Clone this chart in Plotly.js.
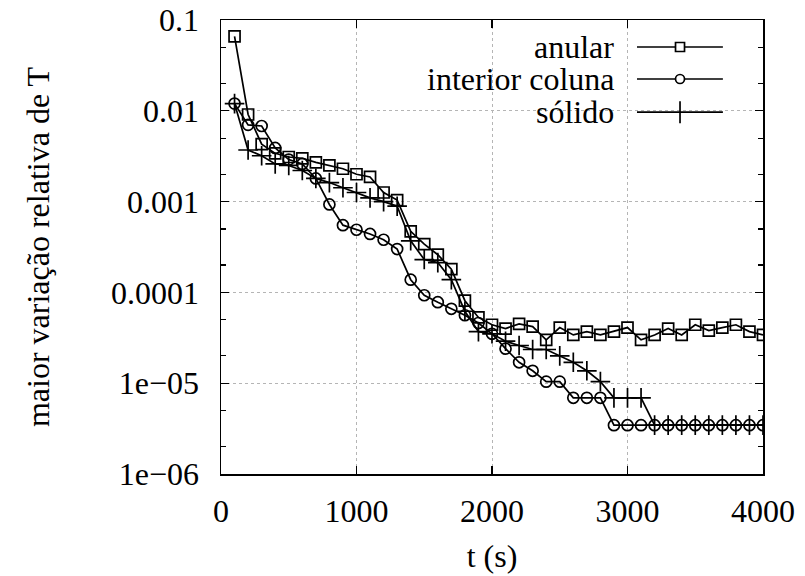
<!DOCTYPE html>
<html>
<head>
<meta charset="utf-8">
<script src="https://cdn.plot.ly/plotly-3.0.1.min.js"></script>
<style>html,body{margin:0;padding:0;background:#fff;}#chart{width:805px;height:576px;}</style>
</head>
<body>
<div id="chart"></div>
<script>
// time (s)
var tAnular = [100,200,300,400,500,600,700,800,900,1000,1100,1200,1300,1400,1500,1600,1700,1800,1900,2000,
  2100,2200,2300,2400,2500,2600,2700,2800,2900,3000,3100,3200,3300,3400,3500,3600,3700,3800,3900,4000];
var anular = [0.066,0.0091,0.0043,0.0034,0.0031,0.0030,0.0027,0.0025,0.0023,0.0020,0.00187,0.00126,0.00104,0.00047,0.00034,0.00026,0.00018,8.1e-5,5.3e-5,4.4e-5,
  4.0e-5,4.5e-5,4.2e-5,3.0e-5,4.1e-5,3.4e-5,3.7e-5,3.4e-5,3.7e-5,4.1e-5,3.0e-5,3.4e-5,4.0e-5,3.4e-5,4.4e-5,3.8e-5,4.1e-5,4.4e-5,3.7e-5,3.4e-5];

var tInterior = tAnular;
var interior = [0.012,0.0070,0.0068,0.0039,0.0029,0.0026,0.0018,0.00093,0.00055,0.00049,0.00044,0.00038,0.00030,0.000138,9.3e-5,7.8e-5,6.6e-5,5.6e-5,4.6e-5,3.5e-5,
  2.4e-5,1.7e-5,1.37e-5,1.04e-5,1.04e-5,6.9e-6,6.9e-6,6.9e-6,3.45e-6,3.45e-6,3.45e-6,3.45e-6,3.45e-6,3.45e-6,3.45e-6,3.45e-6,3.45e-6,3.45e-6,3.45e-6,3.45e-6];

var tSolido = tAnular;
var solido = [0.012,0.0037,0.0032,0.0026,0.0025,0.0022,0.0018,0.00162,0.00142,0.00126,0.00110,0.00100,0.00089,0.00037,0.00023,0.000213,0.000138,6.2e-5,3.7e-5,3.5e-5,
  2.9e-5,2.6e-5,2.35e-5,2.35e-5,2.0e-5,1.7e-5,1.37e-5,1.04e-5,6.9e-6,6.9e-6,6.9e-6,3.45e-6,3.45e-6,3.45e-6,3.45e-6,3.45e-6,3.45e-6,3.45e-6,3.45e-6,3.45e-6];

var seriesNames = ['anular','interior coluna','sólido'];
var yTickVals = [0.1,0.01,0.001,0.0001,1e-5,1e-6];
var yTickText = ['0.1','0.01','0.001','0.0001','1e\u221205','1e\u221206'];
var yMinorVals = [5e-2,2e-2,5e-3,2e-3,5e-4,2e-4,5e-5,2e-5,5e-6,2e-6];
var xTickVals = [0,1000,2000,3000,4000];

var FONT = 'Liberation Serif';
var lineStyle = {color:'#000', width:1.7};

var traces = [
  {x:tAnular, y:anular, name:seriesNames[0], mode:'lines+markers', line:lineStyle,
   marker:{symbol:'square-open', size:11, color:'#000', line:{width:1.7, color:'#000'}}},
  {x:tInterior, y:interior, name:seriesNames[1], mode:'lines+markers', line:lineStyle,
   marker:{symbol:'circle-open', size:11, color:'#000', line:{width:1.7, color:'#000'}}},
  {x:tSolido, y:solido, name:seriesNames[2], mode:'lines+markers', line:lineStyle,
   marker:{symbol:'cross-thin-open', size:14, color:'#000', line:{width:1.7, color:'#000'}}}
];

// custom gnuplot-like legend (text right, sample on the right)
var legTextX = 0.7288, legL0 = 0.7675, legL1 = 0.926, legM = 0.8469;
var legRows = [0.9405, 0.870, 0.797];
var shapes = [
  {type:'rect', xref:'paper', yref:'paper', x0:0.175, x1:0.961, y0:0.762, y1:0.998,
   fillcolor:'#fff', line:{width:0}, layer:'between'}
];
var annotations = [];
legRows.forEach(function(yy, i){
  annotations.push({xref:'paper', yref:'paper', x:legTextX, y:yy, xanchor:'right', yanchor:'middle',
    text:seriesNames[i], showarrow:false, font:{family:FONT, size:32, color:'#000'}});
  shapes.push({type:'line', xref:'paper', yref:'paper', x0:legL0, x1:legL1, y0:yy, y1:yy, line:{color:'#000', width:1.7}});
});
// legend markers
shapes.push({type:'rect', xref:'paper', yref:'paper', xsizemode:'pixel', ysizemode:'pixel',
  xanchor:legM, yanchor:legRows[0], x0:-4.5, x1:4.5, y0:-4.5, y1:4.5, fillcolor:'#fff', line:{color:'#000', width:1.7}});
shapes.push({type:'circle', xref:'paper', yref:'paper', xsizemode:'pixel', ysizemode:'pixel',
  xanchor:legM, yanchor:legRows[1], x0:-4.5, x1:4.5, y0:-4.5, y1:4.5, fillcolor:'#fff', line:{color:'#000', width:1.7}});
shapes.push({type:'line', xref:'paper', yref:'paper', xsizemode:'pixel', ysizemode:'pixel',
  xanchor:legM, yanchor:legRows[2], x0:0, x1:0, y0:-11, y1:11, line:{color:'#000', width:1.7}});

var layout = {
  width:805, height:576,
  margin:{l:221, r:42, t:20, b:102},
  paper_bgcolor:'#fff', plot_bgcolor:'#fff',
  showlegend:false,
  font:{family:FONT, size:32, color:'#000'},
  xaxis:{range:[0,4000], tickmode:'array', tickvals:xTickVals, ticks:'inside', ticklen:8, tickwidth:1.2,
    tickcolor:'#000', mirror:'allticks', showline:true, linecolor:'#000', linewidth:1.5,
    showgrid:true, gridcolor:'#b5b5b5', griddash:'dot', gridwidth:1, zeroline:false,
    tickfont:{family:FONT, size:32, color:'#000'}, ticklabelstandoff:8,
    title:{text:'t (s)', font:{family:FONT, size:32, color:'#000'}, standoff:16}},
  yaxis:{type:'log', range:[-6,-1], tickmode:'array', tickvals:yTickVals, ticktext:yTickText,
    ticks:'inside', ticklen:8, tickwidth:1.2, tickcolor:'#000', mirror:'allticks', showline:true,
    linecolor:'#000', linewidth:1.5, showgrid:true, gridcolor:'#b5b5b5', griddash:'dot', gridwidth:1,
    zeroline:false, tickfont:{family:FONT, size:32, color:'#000'}, ticklabelstandoff:14,
    minor:{tickmode:'array', tickvals:yMinorVals, ticks:'inside', ticklen:5, tickcolor:'#000', showgrid:false},
    title:{text:'maior variação relativa de T', font:{family:FONT, size:32, color:'#000'}, standoff:52}},
  shapes:shapes,
  annotations:annotations
};

Plotly.newPlot('chart', traces, layout, {staticPlot:true, displayModeBar:false});
</script>
</body>
</html>
